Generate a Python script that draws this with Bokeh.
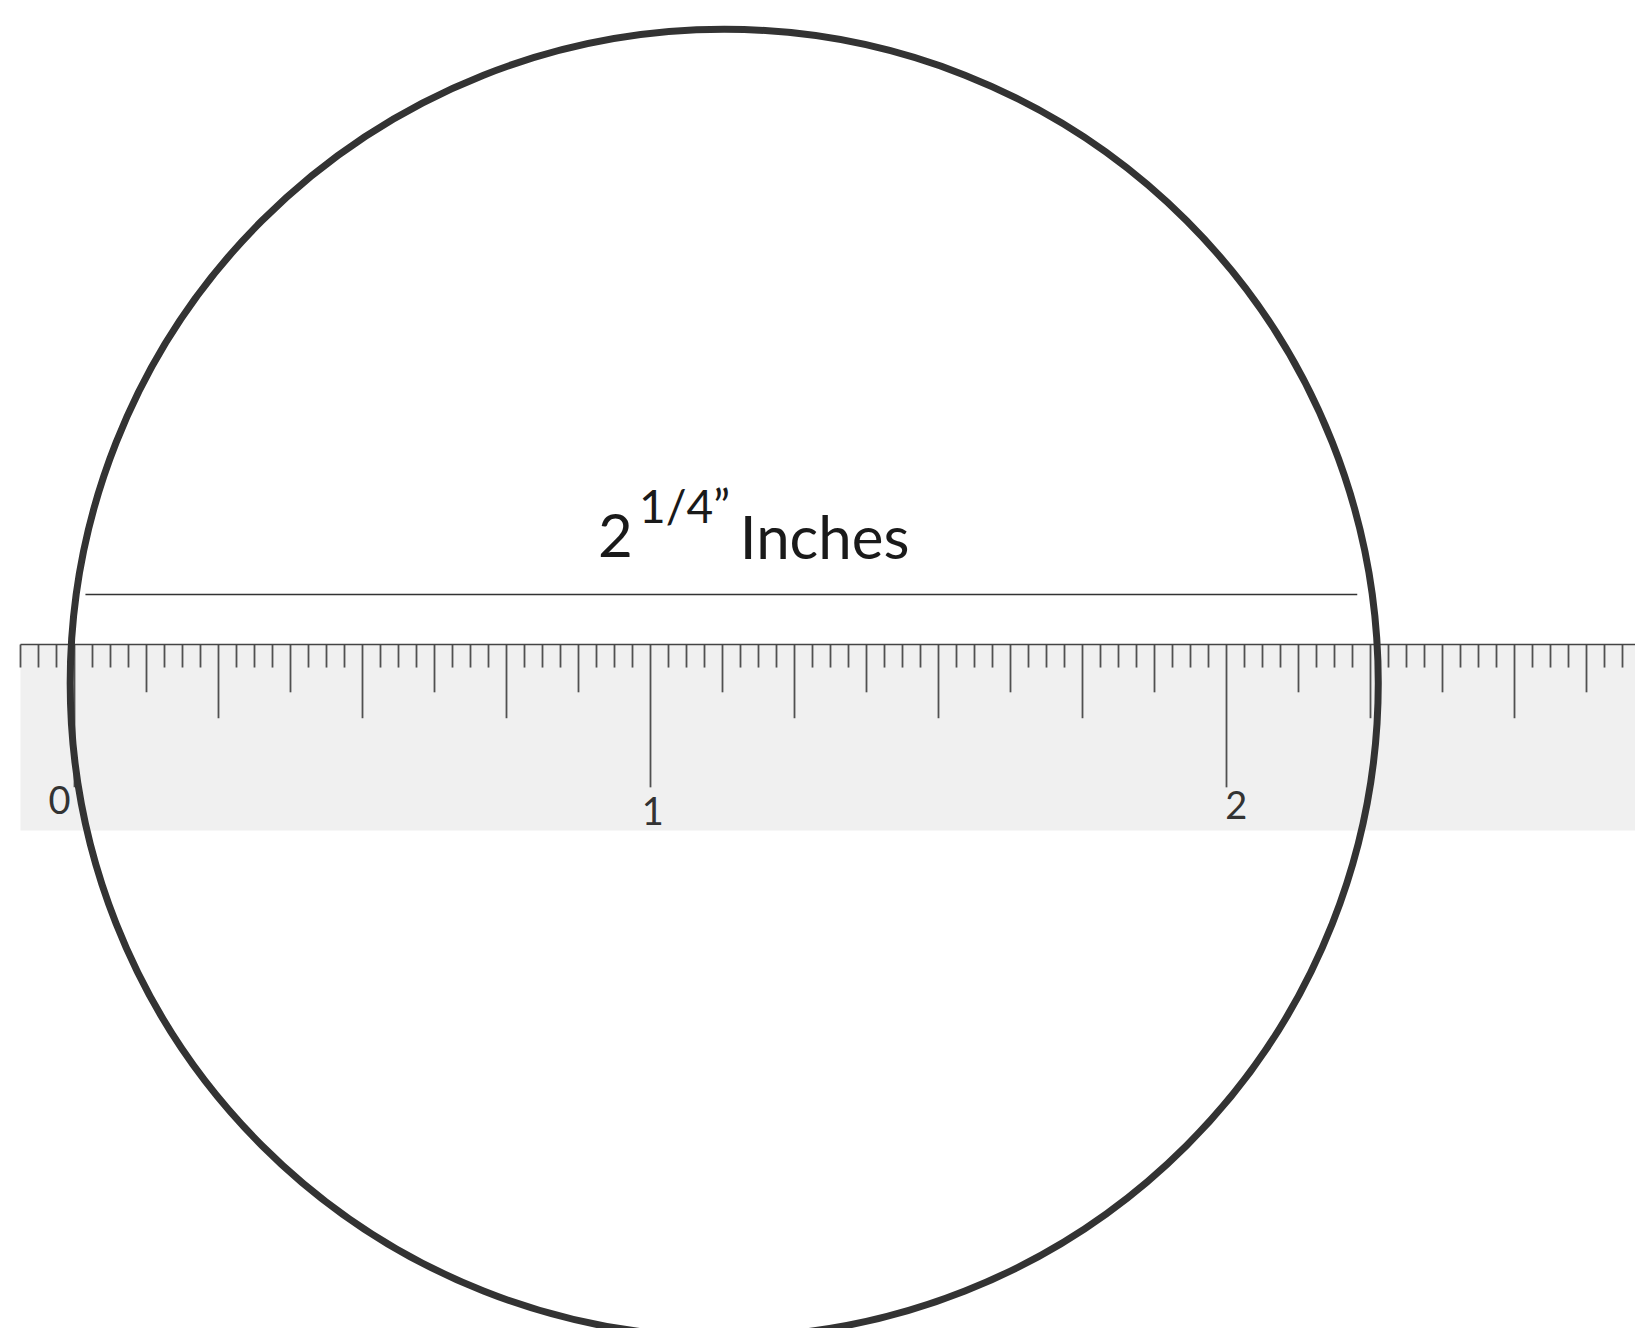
from bokeh.plotting import figure
from bokeh.models import Range1d
from bokeh.core.properties import value
from bokeh.embed import file_html
from bokeh.resources import INLINE

# ---- data (inches) ----
ruler_start = -3 / 32          # first tick position (in)
ruler_end = 2.75               # ruler runs off the right edge
subdivisions = 32              # ticks per inch
tick_lengths = {"inch": 0.248, "quarter": 0.128, "eighth": 0.083, "fine": 0.040}
ruler_depth = 0.323            # height of grey band (in)

inch_labels = ["0", "1", "2"]
label_x = [-0.026, 1.004, 2.017]
label_y = [-0.270, -0.289, -0.278]

circle_cx = 1.128
circle_cy = -0.067
circle_r = 1.1355

dim_x0, dim_x1, dim_y = 0.019, 2.227, 0.087

title_main = ["2", "Inches"]
title_main_x = [0.909, 1.155]
title_y = 0.189
title_sup = "1/4\u201d"
title_sup_x = 0.980
title_sup_y = 0.242

# ---- figure in inch units, 576 px per inch; ruler zero at page x=74, top edge at page y=644 ----
PX = 576.0
W, H = 1635, 1328
x0 = (0 - 74) / PX
y_top = (644 - 0) / PX
p = figure(width=W, height=H, output_backend="svg", toolbar_location=None,
           x_range=Range1d(x0, x0 + W / PX), y_range=Range1d(y_top - H / PX, y_top),
           min_border=0)
p.xaxis.visible = False
p.yaxis.visible = False
p.grid.visible = False
p.outline_line_color = None
p.background_fill_color = "white"
p.border_fill_color = "white"

# grey ruler band
p.quad(left=[ruler_start], right=[ruler_end], top=[0], bottom=[-ruler_depth],
       fill_color="#f0f0f0", line_color=None)

# ticks
k0 = int(round(ruler_start * subdivisions))
k1 = int(round(ruler_end * subdivisions))
tx, ty1 = [], []
for k in range(k0, k1 + 1):
    if k % 32 == 0:
        L = tick_lengths["inch"]
    elif k % 8 == 0:
        L = tick_lengths["quarter"]
    elif k % 4 == 0:
        L = tick_lengths["eighth"]
    else:
        L = tick_lengths["fine"]
    tx.append(k / subdivisions)
    ty1.append(-L)
p.segment(x0=tx, y0=[0] * len(tx), x1=tx, y1=ty1, line_color="#505050", line_width=1.8)
# top edge line
p.segment(x0=[ruler_start], y0=[0], x1=[ruler_end], y1=[0], line_color="#444444", line_width=1.5)

# inch labels
p.text(x=label_x, y=label_y, text=inch_labels, text_font=value("Lato"),
       text_font_size="38px", text_color="#333333", text_align="center",
       text_baseline="alphabetic")

# dimension line
p.segment(x0=[dim_x0], y0=[dim_y], x1=[dim_x1], y1=[dim_y], line_color="#333333", line_width=1.5)

# title
p.text(x=title_main_x, y=[title_y] * 2, text=title_main, text_font=value("Lato"),
       text_font_size="60px", text_color="#1a1a1a", text_align="left",
       text_baseline="alphabetic")
p.text(x=[title_sup_x], y=[title_sup_y], text=[title_sup], text_font=value("Lato"),
       text_font_size="46px", text_color="#1a1a1a", text_align="left",
       text_baseline="alphabetic")

# circle
p.ellipse(x=[circle_cx], y=[circle_cy], width=[2 * circle_r], height=[2 * circle_r],
          fill_color=None, line_color="#333333", line_width=7)

open("out.html", "w").write(file_html(p, INLINE))
